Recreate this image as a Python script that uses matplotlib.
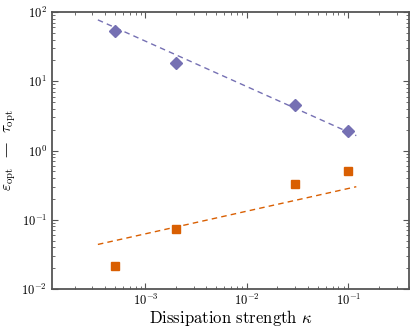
import numpy as np
import matplotlib
matplotlib.use("Agg")
import matplotlib.pyplot as plt

plt.rcParams["font.family"] = "serif"
plt.rcParams["font.serif"] = ["cmr10", "DejaVu Serif"]
plt.rcParams["mathtext.fontset"] = "cm"
plt.rcParams["axes.formatter.use_mathtext"] = True

# dissipation strengths and optimal values
kappa = [5e-4, 2e-3, 3e-2, 1e-1]
tau_opt = [53, 18.2, 4.5, 1.9]
eps_opt = [0.0217, 0.073, 0.325, 0.50]

# end points of the dashed power-law fits
fit_kappa = [3.4e-4, 0.12]
tau_fit = [77, 1.64]
eps_fit = [0.044, 0.30]

purple = "#7570b3"
orange = "#d95f02"
gray = "#555555"

fig = plt.figure(figsize=(4.16, 3.29), dpi=100)
ax = fig.add_axes([0.125, 0.1216, 0.859, 0.8419])

ax.plot(fit_kappa, tau_fit, "--", color=purple, lw=1.0, dashes=(4, 3))
ax.plot(fit_kappa, eps_fit, "--", color=orange, lw=1.0, dashes=(4, 3))
ax.plot(kappa, tau_opt, "D", color=purple, ms=6, mec=purple, ls="none")
ax.plot(kappa, eps_opt, "s", color=orange, ms=6, mec=orange, ls="none")

ax.set_xscale("log")
ax.set_yscale("log")
ax.set_xlim(1.2e-4, 0.4)
ax.set_ylim(1e-2, 1e2)

ax.set_xlabel(r"Dissipation strength $\kappa$", fontsize=12, labelpad=0)
# the dash comes from DejaVu Serif, cmr10 has no proper em dash
ax.set_ylabel(r"$\varepsilon_{\rm opt}$  —  $\tau_{\rm opt}$", fontsize=11,
              family="DejaVu Serif")
ax.yaxis.set_label_coords(-0.095, 0.5)

for s in ax.spines.values():
    s.set_color(gray)
    s.set_linewidth(1.3)
ax.tick_params(which="both", direction="in", top=True, right=True, color=gray,
               labelsize=9)
ax.tick_params(which="major", length=4)
ax.tick_params(which="minor", length=2)
ax.tick_params(axis="x", which="both", pad=3)

fig.savefig("out.png", dpi=100)
